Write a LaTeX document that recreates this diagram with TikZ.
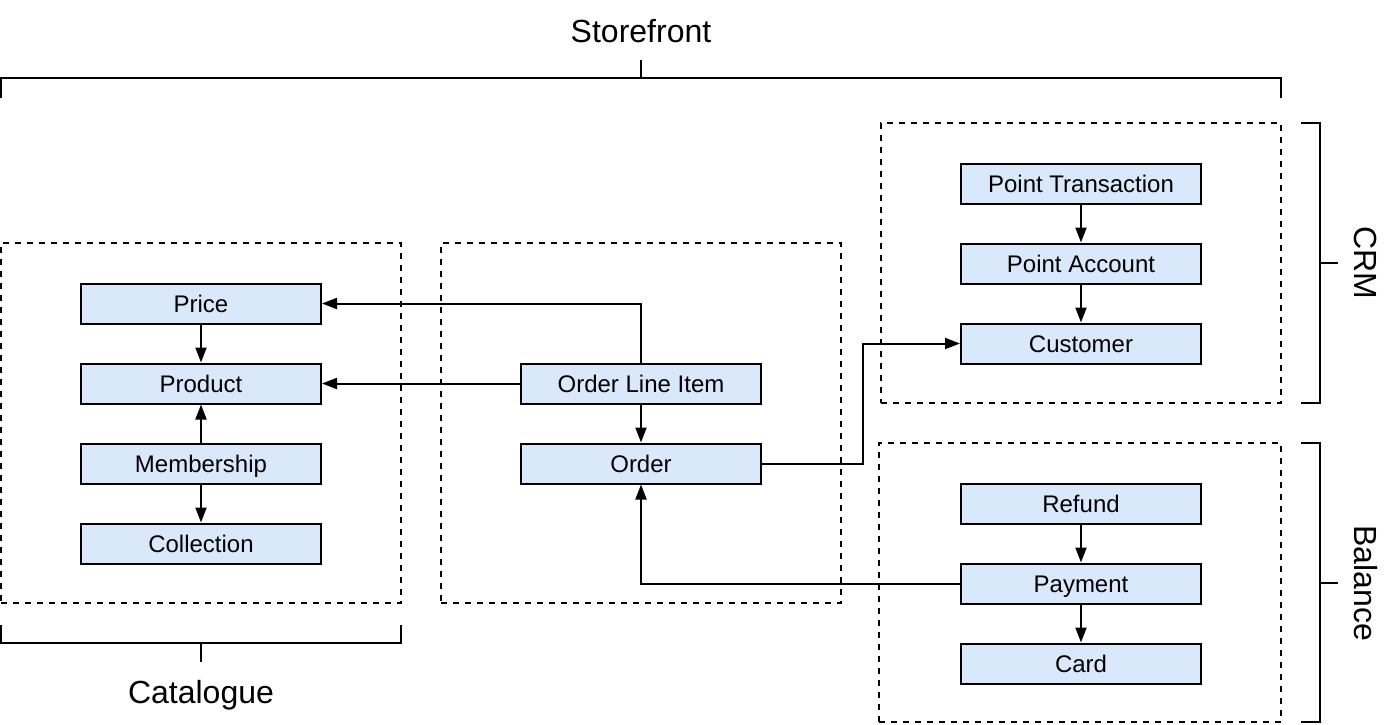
\documentclass[tikz,border=0pt]{standalone}
\usepackage{fontspec}
\setmainfont{Liberation Sans}
\usetikzlibrary{arrows.meta}
\definecolor{boxfill}{HTML}{DAE8FC}
\tikzset{
  entity/.style={draw=black, fill=boxfill, line width=1pt, minimum width=120pt,
    minimum height=20pt, inner sep=0pt, text height=8.6pt, text depth=0pt,
    font=\fontsize{12}{14}\selectfont},
  context/.style={draw=black, line width=0.8pt, dash pattern=on 3pt off 3pt,
    inner sep=0pt},
  arr/.style={line width=1pt, -{Triangle[length=7.5pt,width=5.5pt]}},
  brace/.style={line width=1pt},
  grouplabel/.style={font=\fontsize{16}{19}\selectfont, inner sep=0pt,
    text height=11.5pt, text depth=0pt}
}
\begin{document}
\begin{tikzpicture}[x=0.5pt, y=-0.5pt]
  \useasboundingbox (0,0) rectangle (1398,724);

  % bounded contexts
  \node[context, minimum width=200pt, minimum height=180pt] (catbox) at (201,423) {};
  \node[context, minimum width=200pt, minimum height=180pt] (ordbox) at (641,423) {};
  \node[context, minimum width=200pt, minimum height=140pt] (crmbox) at (1081,263) {};
  \node[context, minimum width=201pt, minimum height=139.5pt] (balbox) at (1080,582.5) {};

  % catalogue entities
  \node[entity] (price) at (201,303.5) {Price};
  \node[entity] (product) at (201,383.5) {Product};
  \node[entity] (membership) at (201,463.5) {Membership};
  \node[entity] (collection) at (201,543.5) {Collection};

  % order entities
  \node[entity] (oli) at (641,383.5) {Order Line Item};
  \node[entity] (order) at (641,463.5) {Order};

  % CRM entities
  \node[entity] (ptx) at (1081,183.5) {Point Transaction};
  \node[entity] (pacc) at (1081,263.5) {Point Account};
  \node[entity] (customer) at (1081,343.5) {Customer};

  % balance entities
  \node[entity] (refund) at (1081,503.5) {Refund};
  \node[entity] (payment) at (1081,583.5) {Payment};
  \node[entity] (card) at (1081,663.5) {Card};

  % relations
  \draw[arr] (price) -- (product);
  \draw[arr] (membership) -- (product);
  \draw[arr] (membership) -- (collection);
  \draw[arr] (oli) -- (order);
  \draw[arr] (oli.west) -- (product.east);
  \draw[arr] (oli.north) |- (price.east);
  \draw[arr] (order.east) -- ++(101,0) |- (customer.west);
  \draw[arr] (payment.west) -| (order.south);
  \draw[arr] (ptx) -- (pacc);
  \draw[arr] (pacc) -- (customer);
  \draw[arr] (refund) -- (payment);
  \draw[arr] (payment) -- (card);

  % Storefront bracket
  \draw[brace] (1,98) -- (1,78) -- (1281,78) -- (1281,98);
  \draw[brace] (641,78) -- (641,60);
  \node[grouplabel] (storefront) at (641,31) {Storefront};

  % Catalogue bracket
  \draw[brace] (1,625) -- (1,643) -- (401,643) -- (401,625);
  \draw[brace] (201,643) -- (201,662);
  \node[grouplabel] (catalogue) at (201,692) {Catalogue};

  % CRM bracket
  \draw[brace] (1301,123) -- (1320,123) -- (1320,403) -- (1301,403);
  \draw[brace] (1320,263) -- (1338,263);
  \node[grouplabel, rotate=-90] (crm) at (1366,263) {CRM};

  % Balance bracket
  \draw[brace] (1301,443) -- (1320,443) -- (1320,722) -- (1301,722);
  \draw[brace] (1320,583) -- (1338,583);
  \node[grouplabel, rotate=-90] (balance) at (1366,583) {Balance};
\end{tikzpicture}
\end{document}
